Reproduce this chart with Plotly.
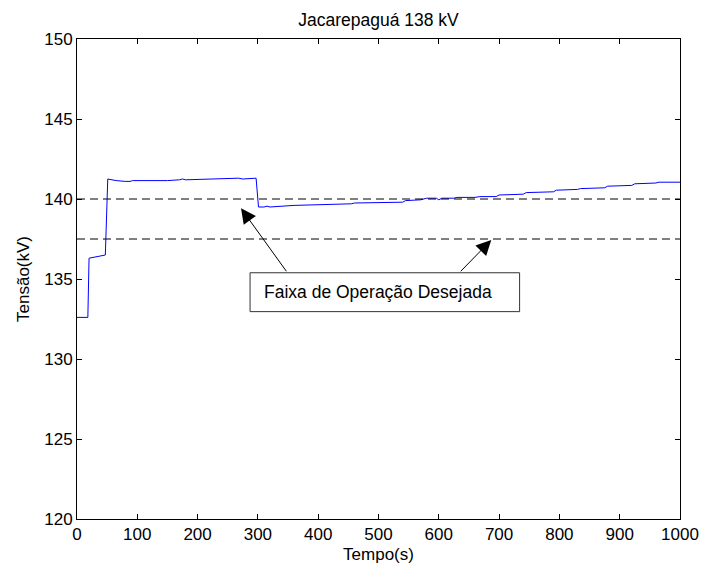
import plotly.graph_objects as go

# Voltage time series
tempo = [0, 18, 20, 47, 51, 58, 65, 80, 88, 92, 100, 150, 170, 175, 180, 250, 262, 268, 275, 297,
         301, 310, 315, 320, 360, 410, 415, 455, 460, 540, 545, 570, 580, 596, 600, 605, 625, 630,
         660, 668, 695, 700, 740, 745, 790, 795, 830, 835, 875, 880, 920, 925, 960, 965, 1000]
tensao = [132.6, 132.6, 136.3, 136.5, 141.25, 141.2, 141.15, 141.1, 141.1, 141.15, 141.15, 141.15,
          141.2, 141.25, 141.2, 141.25, 141.3, 141.3, 141.25, 141.3,
          139.5, 139.5, 139.55, 139.5, 139.6, 139.65, 139.7, 139.7, 139.75, 139.8, 139.9, 139.95,
          140.05, 140.05, 139.95, 140.05, 140.05, 140.1, 140.1, 140.15, 140.15, 140.25, 140.3,
          140.4, 140.45, 140.55, 140.6, 140.65, 140.7, 140.8, 140.85, 140.95, 141.0, 141.05, 141.05]

faixa_sup = 140.0
faixa_inf = 137.5
faixa_x = [0, 1000]

titulo = "Jacarepaguá 138 kV"
rotulo_x = "Tempo(s)"
rotulo_y = "Tensão(kV)"
texto_anot = "Faixa de Operação Desejada"

FONT = "Liberation Sans, Arial, sans-serif"

fig = go.Figure()
fig.add_trace(go.Scatter(x=tempo, y=tensao, mode="lines",
                         line=dict(color="#0000ff", width=1), showlegend=False))
for lvl in (faixa_sup, faixa_inf):
    fig.add_trace(go.Scatter(x=faixa_x, y=[lvl, lvl], mode="lines",
                             line=dict(color="black", width=1, dash="8px,5px"),
                             showlegend=False))

# Annotation box
fig.add_shape(type="rect", xref="x", yref="y", x0=287, x1=734, y0=132.96, y1=135.39,
              line=dict(color="#333333", width=1), fillcolor="white", layer="above")
fig.add_annotation(x=306, y=134.17, xref="x", yref="y", text=texto_anot, showarrow=False,
                   xanchor="left", yanchor="middle",
                   font=dict(family=FONT, size=17.5, color="black"))
# Arrows
fig.add_annotation(x=272, y=139.42, ax=349, ay=135.39, xref="x", yref="y", axref="x", ayref="y",
                   text="", showarrow=True, arrowhead=2, arrowsize=3, arrowwidth=1,
                   arrowcolor="black", standoff=0)
fig.add_annotation(x=687, y=137.44, ax=634, ay=135.39, xref="x", yref="y", axref="x", ayref="y",
                   text="", showarrow=True, arrowhead=2, arrowsize=3, arrowwidth=1,
                   arrowcolor="black", standoff=0)

axis_common = dict(showline=True, linecolor="black", linewidth=1, mirror="ticks",
                   ticks="inside", ticklen=5, tickcolor="black", showgrid=False,
                   zeroline=False, automargin=False,
                   tickfont=dict(family=FONT, size=17, color="black"))

fig.update_xaxes(range=[0, 1000], dtick=100, tick0=0,
                 title=dict(text=rotulo_x, font=dict(family=FONT, size=17, color="black"), standoff=4),
                 **axis_common)
fig.update_yaxes(range=[120, 150], dtick=5, tick0=120,
                 title=dict(text=rotulo_y, font=dict(family=FONT, size=17, color="black"), standoff=10),
                 **axis_common)

fig.update_layout(
    width=704, height=572,
    margin=dict(l=77, r=24, t=39, b=53),
    paper_bgcolor="white", plot_bgcolor="white",
    title=dict(text=titulo, x=0.5, xref="paper", y=1 - 20 / 572, yref="container",
               xanchor="center", yanchor="middle",
               font=dict(family=FONT, size=17.5, color="black")),
)

fig.write_html("out.html")
